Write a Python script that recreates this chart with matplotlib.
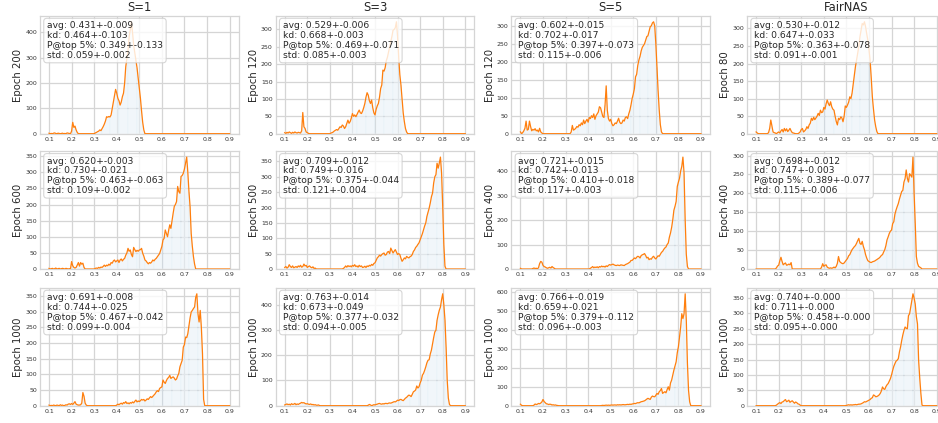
import numpy as np
import matplotlib
matplotlib.use("Agg")
import matplotlib.pyplot as plt
from matplotlib.ticker import MaxNLocator, FormatStrFormatter

plt.rcParams["font.family"] = ["DejaVu Sans"]

# Accuracy bins (0.1 .. 0.9, step 0.005)
BIN_START, BIN_STEP, BIN_END = 0.1, 0.005, 0.9

# Column / row headers
settings = ["S=1", "S=3", "S=5", "FairNAS"]
epochs = [[200, 120, 120, 80],
          [600, 500, 400, 400],
          [1000, 1000, 1000, 1000]]

# Histogram counts per panel as (first bin, counts) segments; other bins are empty
s1_e200 = [(0.100, [2, 0, 1, 0, 2, 3, 1, 0, 2, 1, 0, 1, 2, 0, 1, 0, 3, 2, 1, 0,
                    10, 45, 25, 30, 15, 5]),
           (0.300, [0, 3, 5, 8, 10, 15, 12, 20, 28, 38, 50, 67, 65, 68, 66,
                    74, 100, 125, 150, 175, 160, 140, 130, 113, 125, 146, 160,
                    200, 265, 297, 330, 383, 410, 442, 400, 350, 320, 290, 260,
                    220, 180, 140, 90, 45, 15])]
s3_e120 = [(0.100, [3, 1, 4, 2, 5, 3, 1, 4, 2, 5, 3, 2, 4, 3, 2, 8, 61, 20, 15,
                    5, 3, 1]),
           (0.300, [0, 2, 3, 5, 8, 10, 12, 10, 15, 20, 18, 25, 22, 15, 20, 30,
                    39, 30, 35, 45, 58, 50, 54, 49, 55, 62, 68, 60, 58, 65, 75,
                    87, 105, 118, 111, 95, 87, 97, 75, 60, 54, 70, 80, 87, 105,
                    130, 140, 183, 180, 190, 210, 220, 235, 250, 265, 280, 298,
                    300, 305, 322, 280, 220, 170, 140, 100, 60, 35, 15, 5])]
s5_e120 = [(0.100, [5, 0, 3, 8, 15, 35, 10, 12, 35, 20, 8, 12, 10, 14, 8, 10, 5,
                    15, 5, 2]),
           (0.325, [5, 23, 10, 12, 15, 20, 18, 25, 22, 30, 25, 38, 28, 35, 40,
                    32, 45, 42, 50, 45, 55, 40, 50, 55, 60, 75, 72, 60, 48, 45,
                    80, 133, 65, 42, 35, 40, 28, 22, 25, 30, 28, 35, 43, 32, 28,
                    30, 38, 35, 45, 47, 42, 55, 65, 80, 98, 110, 125, 158, 165,
                    190, 205, 215, 230, 240, 245, 250, 260, 270, 272, 285, 297,
                    300, 308, 311, 300, 250, 186, 120, 66, 25, 5])]
fair_e80 = [(0.100, [5, 2, 0, 0, 0, 0, 0, 0, 0, 0, 0, 3, 15, 39, 22, 5, 3, 2, 0,
                     3, 5, 2, 8, 12, 5, 15, 8, 14, 6, 10, 15, 8, 3, 2, 1, 0, 0,
                     0, 2, 5]),
            (0.300, [12, 15, 5, 8, 12, 20, 15, 25, 30, 44, 38, 47, 40, 45, 50,
                     58, 52, 67, 60, 62, 75, 70, 85, 96, 86, 80, 91, 77, 70, 67,
                     50, 35, 25, 44, 40, 48, 45, 34, 50, 79, 75, 82, 90, 105,
                     100, 115, 140, 165, 191, 210, 229, 250, 276, 295, 314, 310,
                     319, 305, 285, 267, 240, 210, 160, 105, 70, 39, 20, 6])]
s1_e600 = [(0.100, [2, 0, 1, 2, 0, 1, 3, 0, 1, 2, 0, 1, 2, 1, 0, 2, 1, 0, 1, 0,
                    23, 10, 5, 3, 5, 12, 20, 9, 20, 15, 18, 5]),
           (0.305, [2, 3, 2, 5, 3, 6, 5, 8, 12, 8, 12, 10, 15, 12, 20, 18, 25,
                    28, 22, 25, 28, 20, 28, 31, 25, 30, 33, 43, 50, 64, 55, 59,
                    45, 38, 67, 60, 54, 58, 55, 59, 60, 64, 49, 40, 28, 25, 20,
                    16, 20, 18, 22, 28, 25, 30, 33, 38, 43, 48, 59, 70, 90, 95,
                    121, 110, 100, 120, 137, 126, 150, 173, 194, 200, 209, 256,
                    240, 235, 287, 290, 297, 310, 328, 347, 300, 240, 194, 110,
                    70, 38, 15])]
s3_e500 = [(0.100, [5, 8, 3, 6, 14, 8, 5, 10, 4, 6, 8, 5, 10, 7, 12, 6, 8, 16,
                    10, 12, 5, 8, 10, 6, 4, 7, 2, 3]),
           (0.360, [2, 5, 10, 6, 11, 8, 10, 7, 12, 9, 14, 8, 10, 6, 12, 8, 10,
                    5, 6, 9, 5, 10, 8, 12, 10, 15, 12, 18, 20, 28, 36, 40, 45,
                    42, 47, 50, 52, 45, 47, 55, 57, 50, 68, 60, 52, 58, 63, 55,
                    47, 50, 47, 35, 25, 30, 36, 33, 41, 38, 36, 40, 42, 47, 57,
                    62, 70, 74, 80, 85, 95, 106, 115, 128, 140, 150, 171, 185,
                    198, 215, 235, 247, 280, 300, 307, 344, 328, 345, 364, 312,
                    204, 80, 9])]
s5_e400 = [(0.100, [3, 0, 0, 0, 0, 0, 0, 0, 0, 0, 0, 2, 4, 2, 3, 1, 5, 22, 31,
                    28, 15, 10, 8, 5, 3, 5, 7, 4, 10, 6, 3]),
           (0.410, [3, 6, 10, 5, 8, 6, 9, 5, 10, 8, 12, 9, 11, 8, 13, 10, 15,
                    18, 16, 18, 20, 17, 15, 14, 16, 15, 14, 17, 16, 15, 14, 18,
                    20, 22, 25, 28, 35, 35, 40, 45, 42, 48, 52, 50, 45, 55, 58,
                    60, 63, 55, 45, 48, 38, 42, 40, 48, 52, 45, 41, 48, 54, 52,
                    60, 68, 72, 80, 86, 90, 100, 106, 130, 147, 170, 201, 240,
                    256, 276, 337, 355, 371, 400, 419, 457, 392, 201, 60, 10])]
fair_e400 = [(0.190, [3, 8, 10, 22, 31, 20, 11, 14, 16, 10, 11, 13, 11, 17]),
             (0.390, [5, 14, 7, 10, 11, 5, 3, 2, 3, 2, 3, 5, 3, 7, 15, 33, 20,
                      17, 15, 14, 16, 20, 24, 28, 35, 38, 45, 51, 55, 59, 62,
                      68, 75, 81, 68, 65, 73, 60, 51, 38, 29, 22, 20, 18, 17,
                      19, 20, 21, 23, 25, 27, 29, 32, 36, 38, 45, 51, 62, 77,
                      85, 94, 100, 103, 120, 125, 145, 156, 165, 173, 185, 195,
                      205, 208, 230, 239, 262, 240, 230, 252, 248, 243, 296,
                      200, 121, 33, 15, 7, 5, 3])]
s1_e1000 = [(0.100, [2, 0, 1, 0, 2, 1, 0, 2, 1, 0, 3, 1, 2, 0, 1, 3, 2, 5, 6, 4,
                     7, 4, 8, 13, 5, 3, 2, 2, 3, 8, 42, 30, 8, 2]),
            (0.400, [2, 5, 3, 6, 8, 5, 10, 8, 13, 7, 9, 6, 10, 8, 12, 9, 14, 18,
                     12, 15, 13, 16, 20, 18, 20, 15, 18, 22, 20, 25, 29, 26, 30,
                     34, 38, 44, 48, 45, 55, 58, 60, 82, 75, 71, 80, 87, 90, 97,
                     87, 90, 92, 88, 82, 85, 95, 103, 124, 135, 145, 187, 195,
                     219, 217, 230, 256, 280, 299, 304, 310, 315, 346, 357, 293,
                     267, 304, 250, 166, 20])]
s3_e1000 = [(0.100, [3, 5, 7, 4, 6, 3, 8, 5, 6, 9, 4, 7, 5, 8, 10, 13, 11, 12,
                     9, 7, 8, 6, 5, 7, 4, 5, 3, 4, 2, 2, 3]),
            (0.470, [2, 5, 3, 0, 2, 4, 3, 5, 6, 8, 9, 7, 6, 8, 7, 9, 9, 8, 10,
                     11, 10, 12, 14, 16, 15, 18, 22, 20, 24, 25, 22, 20, 25, 30,
                     33, 38, 42, 40, 36, 45, 55, 58, 62, 78, 70, 75, 90, 101,
                     121, 128, 140, 154, 170, 180, 182, 205, 220, 246, 270, 292,
                     299, 338, 360, 378, 391, 420, 443, 400, 340, 233, 101, 30,
                     5])]
s5_e1000 = [(0.100, [8, 2]),
            (0.160, [3, 9, 6, 8, 12, 10, 14, 20, 33, 22, 16, 10, 9, 6, 8, 7, 4,
                     5, 3, 4, 2, 1]),
            (0.460, [1, 2, 1, 2, 3, 2, 3, 2, 3, 4, 3, 4, 4, 3, 5, 4, 5, 4, 5, 6,
                     5, 5, 6, 7, 6, 8, 7, 9, 10, 12, 11, 14, 16, 15, 18, 21, 22,
                     24, 26, 30, 35, 39, 36, 33, 45, 51, 48, 47, 55, 65, 60, 74,
                     80, 91, 65, 70, 74, 68, 85, 100, 82, 120, 135, 161, 188,
                     210, 232, 280, 311, 363, 416, 486, 460, 486, 591, 451, 223,
                     80, 20])]
fair_e1000 = [(0.190, [2, 5, 8, 10, 7, 12, 13, 17, 20, 13, 15, 18, 11, 14, 16,
                       12, 8, 12, 10, 6, 5, 2]),
              (0.500, [1, 2, 3, 2, 3, 2, 3, 3, 4, 3, 4, 5, 5, 6, 8, 10, 13, 12,
                       14, 16, 18, 20, 24, 26, 35, 33, 29, 30, 32, 35, 40, 48,
                       61, 55, 53, 62, 68, 72, 80, 88, 100, 115, 128, 137, 145,
                       148, 153, 175, 191, 212, 230, 245, 256, 252, 250, 293,
                       299, 320, 342, 364, 350, 331, 290, 266, 148, 90, 40, 2])]

panels = [[s1_e200, s3_e120, s5_e120, fair_e80],
          [s1_e600, s3_e500, s5_e400, fair_e400],
          [s1_e1000, s3_e1000, s5_e1000, fair_e1000]]

# Summary statistics: (mean, spread) for avg, kd, P@top 5%, std
stats = [
    [[(0.431, 0.009), (0.464, 0.103), (0.349, 0.133), (0.059, 0.002)],
     [(0.529, 0.006), (0.668, 0.003), (0.469, 0.071), (0.085, 0.003)],
     [(0.602, 0.015), (0.702, 0.017), (0.397, 0.073), (0.115, 0.006)],
     [(0.530, 0.012), (0.647, 0.033), (0.363, 0.078), (0.091, 0.001)]],
    [[(0.620, 0.003), (0.730, 0.021), (0.463, 0.063), (0.109, 0.002)],
     [(0.709, 0.012), (0.749, 0.016), (0.375, 0.044), (0.121, 0.004)],
     [(0.721, 0.015), (0.742, 0.013), (0.410, 0.018), (0.117, 0.003)],
     [(0.698, 0.012), (0.747, 0.003), (0.389, 0.077), (0.115, 0.006)]],
    [[(0.691, 0.008), (0.744, 0.025), (0.467, 0.042), (0.099, 0.004)],
     [(0.763, 0.014), (0.673, 0.049), (0.377, 0.032), (0.094, 0.005)],
     [(0.766, 0.019), (0.659, 0.021), (0.379, 0.112), (0.096, 0.003)],
     [(0.740, 0.000), (0.711, 0.000), (0.458, 0.000), (0.095, 0.000)]],
]
stat_names = ["avg", "kd", "P@top 5%", "std"]

x = np.round(np.arange(BIN_START, BIN_END + 1e-9, BIN_STEP), 3)


def build_counts(segments):
    counts = np.zeros_like(x)
    for start, values in segments:
        i0 = int(round((start - BIN_START) / BIN_STEP))
        counts[i0:i0 + len(values)] = values
    return counts


W, H = 938, 423
fig = plt.figure(figsize=(W / 100, H / 100), dpi=100)

ax_w, ax_h = 198.6, 117.5
col_left = [40 + 235.7 * c for c in range(4)]
row_bottom = [133.7, 269.0, 405.7]

grid_c = "#d5d5d5"
text_c = "#262626"

for r in range(3):
    for c in range(4):
        ax = fig.add_axes([col_left[c] / W, 1 - row_bottom[r] / H,
                           ax_w / W, ax_h / H])
        ax.set_facecolor("white")
        y = build_counts(panels[r][c])

        ax.bar(x, y, width=BIN_STEP, facecolor=(0.12, 0.47, 0.71, 0.10),
               edgecolor="white", linewidth=0.25, zorder=2)
        ax.plot(x, y, color="#ff7f0e", lw=0.9, zorder=3)

        ax.set_xlim(0.06, 0.94)
        ax.set_ylim(0, y.max() * 1.05)
        ax.set_xticks(np.round(np.arange(0.1, 0.91, 0.1), 1))
        ax.xaxis.set_major_formatter(FormatStrFormatter("%.1f"))
        ax.yaxis.set_major_locator(MaxNLocator(nbins=9, steps=[1, 2, 2.5, 5, 10]))

        ax.grid(True, color=grid_c, lw=0.9, zorder=0)
        ax.set_axisbelow(True)
        for sp in ax.spines.values():
            sp.set_color(grid_c)
            sp.set_linewidth(0.9)
        ax.tick_params(length=0, labelsize=4.5, pad=2.2, labelcolor="#333333")

        txt = "\n".join(f"{n}: {m:.3f}+-{s:.3f}"
                        for n, (m, s) in zip(stat_names, stats[r][c]))
        ax.text(0.035, 0.955, txt, transform=ax.transAxes, ha="left", va="top",
                fontsize=6.6, color=text_c, linespacing=1.1, zorder=5,
                bbox=dict(boxstyle="round,pad=0.35", facecolor="white",
                          edgecolor="#cccccc", alpha=0.8, linewidth=0.8))

        ax.set_ylabel(f"Epoch {epochs[r][c]}", fontsize=7.3, color=text_c)
        ax.yaxis.set_label_coords(-0.085, 0.5)
        if r == 0:
            ax.set_title(settings[c], fontsize=8.3, pad=3.5, color=text_c)

fig.savefig("out.png", dpi=100)
